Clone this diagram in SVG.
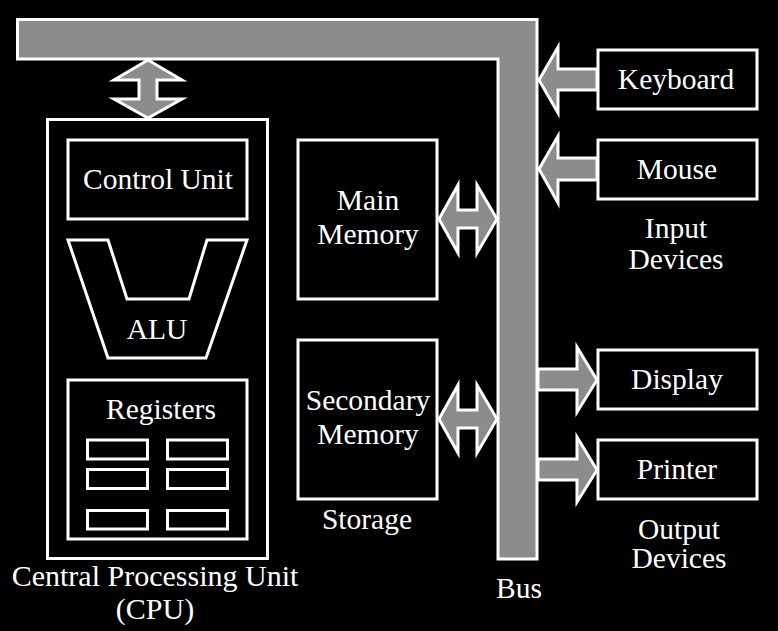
<svg xmlns="http://www.w3.org/2000/svg" width="778" height="631" viewBox="0 0 778 631">
<style>
.box{fill:#000;stroke:#fff;stroke-width:3}
.arr{fill:#8c8c8c;stroke:#fff;stroke-width:3;stroke-linejoin:miter}
.t{font-family:"Liberation Serif","Times New Roman",serif;font-size:29.5px;fill:#fff;text-anchor:middle}
</style>
<rect width="778" height="631" fill="#000"/>

<g id="bus">
<polygon class="arr" points="17.5,19.5 537,19.5 537,559 498,559 498,59 17.5,59"/>
<text class="t" x="519" y="598">Bus</text>
</g>

<g id="connectors">
<polygon class="arr" points="148,60 182,80 157,80 157,99 182,99 148,118 114,99 139,99 139,80 114,80"/>
<polygon class="arr" points="439,219 458,185 458,210 477,210 477,185 497,219 477,253 477,228 458,228 458,253"/>
<polygon class="arr" points="439,419 458,385 458,410 477,410 477,385 497,419 477,453 477,428 458,428 458,453"/>
<polygon class="arr" points="539,80 558,47 558,69 597,69 597,90 558,90 558,113"/>
<polygon class="arr" points="539,169 558,136 558,158 597,158 597,180 558,180 558,203"/>
<polygon class="arr" points="538,369 577,369 577,347 597,380 577,412 577,390 538,390"/>
<polygon class="arr" points="538,459 577,459 577,437 597,470 577,502 577,480 538,480"/>
</g>

<g id="cpu">
<rect class="box" x="47.5" y="119.5" width="220" height="439"/>
<text class="t" x="155" y="586" style="font-size:30px">Central Processing Unit</text>
<text class="t" x="155" y="619" style="font-size:30px">(CPU)</text>
</g>

<g id="control-unit">
<rect class="box" x="68" y="140" width="179" height="79"/>
<text class="t" x="158" y="189">Control Unit</text>
</g>

<g id="alu">
<polygon class="box" points="68,240 108,240 127,299 189,299 207,240 247,240 206,358 108,358"/>
<text class="t" x="157" y="339">ALU</text>
</g>

<g id="registers">
<rect class="box" x="68" y="380" width="179" height="159"/>
<text class="t" x="161" y="419">Registers</text>
<rect class="box" x="87.5" y="440" width="60" height="19"/>
<rect class="box" x="167.5" y="440" width="60" height="19"/>
<rect class="box" x="87.5" y="469.5" width="60" height="19"/>
<rect class="box" x="167.5" y="469.5" width="60" height="19"/>
<rect class="box" x="87.5" y="510.5" width="60" height="18.5"/>
<rect class="box" x="167.5" y="510.5" width="60" height="18.5"/>
</g>

<g id="main-memory">
<rect class="box" x="298" y="140" width="139" height="159"/>
<text class="t" x="368" y="210">Main</text>
<text class="t" x="368" y="244">Memory</text>
</g>

<g id="secondary-memory">
<rect class="box" x="298" y="340" width="139" height="159"/>
<text class="t" x="368" y="410">Secondary</text>
<text class="t" x="368" y="444">Memory</text>
<text class="t" x="367" y="529">Storage</text>
</g>

<g id="keyboard">
<rect class="box" x="598" y="50" width="159" height="59"/>
<text class="t" x="676" y="89">Keyboard</text>
</g>

<g id="mouse">
<rect class="box" x="598" y="140" width="159" height="59"/>
<text class="t" x="677" y="179">Mouse</text>
</g>

<g id="input-label">
<text class="t" x="676" y="238">Input</text>
<text class="t" x="676" y="269">Devices</text>
</g>

<g id="display">
<rect class="box" x="598" y="350" width="159" height="59"/>
<text class="t" x="677" y="389">Display</text>
</g>

<g id="printer">
<rect class="box" x="598" y="440" width="159" height="59"/>
<text class="t" x="677" y="479">Printer</text>
</g>

<g id="output-label">
<text class="t" x="679" y="539">Output</text>
<text class="t" x="679" y="568">Devices</text>
</g>
</svg>
